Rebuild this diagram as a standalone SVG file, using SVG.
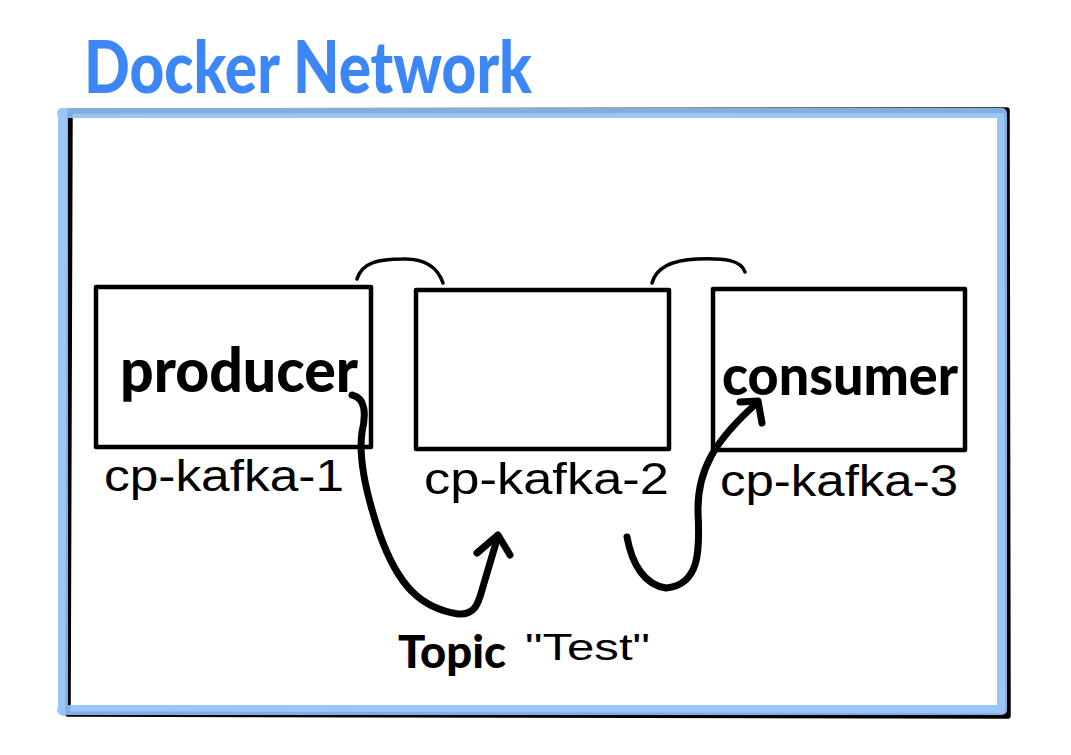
<svg xmlns="http://www.w3.org/2000/svg" width="1071" height="755" viewBox="0 0 1071 755">
<style>
.box{fill:none;stroke:#000;stroke-width:4.5;stroke-linejoin:round}
.ink{fill:none;stroke:#000;stroke-linecap:round;stroke-linejoin:round}
.lbl{font-family:"Liberation Sans",Arial,sans-serif;font-size:44px;fill:#000}
.bold{font-family:Lato,"Liberation Sans",sans-serif;font-weight:900;fill:#000}
</style>
<rect width="1071" height="755" fill="#fff"/>
<g id="docker-network">
<text x="84" y="93" font-family="Lato,'Liberation Sans',sans-serif" font-weight="900" font-size="72" fill="#3d86f5" textLength="448" lengthAdjust="spacingAndGlyphs">Docker Network</text>
<path d="M70 111 L1007 110 L1008 716 L68 714 Z" fill="none" stroke="#000" stroke-width="5.5" stroke-linejoin="round"/>
<path d="M62 113 L1002 113 M63 113 L63 711 M62 710 L1002 710 M1002 113 L1002 710" fill="none" stroke="#8fc0f8" stroke-opacity="0.9" stroke-width="10" stroke-linecap="round"/>
</g>
<g id="cp-kafka-1">
<rect class="box" x="96" y="287" width="275" height="160"/>
<text class="bold" x="120" y="392" font-size="60" textLength="238" lengthAdjust="spacingAndGlyphs">producer</text>
<text class="lbl" x="104" y="491" textLength="240" lengthAdjust="spacingAndGlyphs">cp-kafka-1</text>
</g>
<g id="cp-kafka-2">
<rect class="box" x="416" y="290" width="253" height="159"/>
<text class="lbl" x="424" y="494" textLength="245" lengthAdjust="spacingAndGlyphs">cp-kafka-2</text>
</g>
<g id="cp-kafka-3">
<rect class="box" x="713" y="289" width="252" height="161"/>
<text class="bold" x="722" y="395" font-size="56" textLength="236" lengthAdjust="spacingAndGlyphs">consumer</text>
<text class="lbl" x="720" y="496" textLength="238" lengthAdjust="spacingAndGlyphs">cp-kafka-3</text>
</g>
<g id="topic-label">
<text class="bold" x="398" y="668" font-size="46" textLength="108" lengthAdjust="spacingAndGlyphs">Topic</text>
<text x="525" y="660" font-family="'Liberation Sans',Arial,sans-serif" font-size="36" fill="#000" textLength="125" lengthAdjust="spacingAndGlyphs">"Test"</text>
</g>
<g id="connectors">
<path class="ink" stroke-width="3.5" d="M357 279 C362 262 380 259 402 259 C425 258 438 268 443 283"/>
<path class="ink" stroke-width="3.5" d="M652 283 C656 268 672 260 697 259 C725 258 741 260 745 272"/>
<path class="ink" stroke-width="7" d="M352 395 C366 398 366 415 362 432 C358 460 368 500 380 535 C398 585 420 608 458 614 C474 615 478 605 482 590 L498 536"/>
<path class="ink" stroke-width="7" d="M477 553 L498 535 L510 555"/>
<path class="ink" stroke-width="7" d="M627 537 C632 565 645 585 666 588 C700 585 700 550 698 512 C697 470 715 440 758 402"/>
<path class="ink" stroke-width="7" d="M740 402 L758 401 L762 423"/>
</g>
</svg>
